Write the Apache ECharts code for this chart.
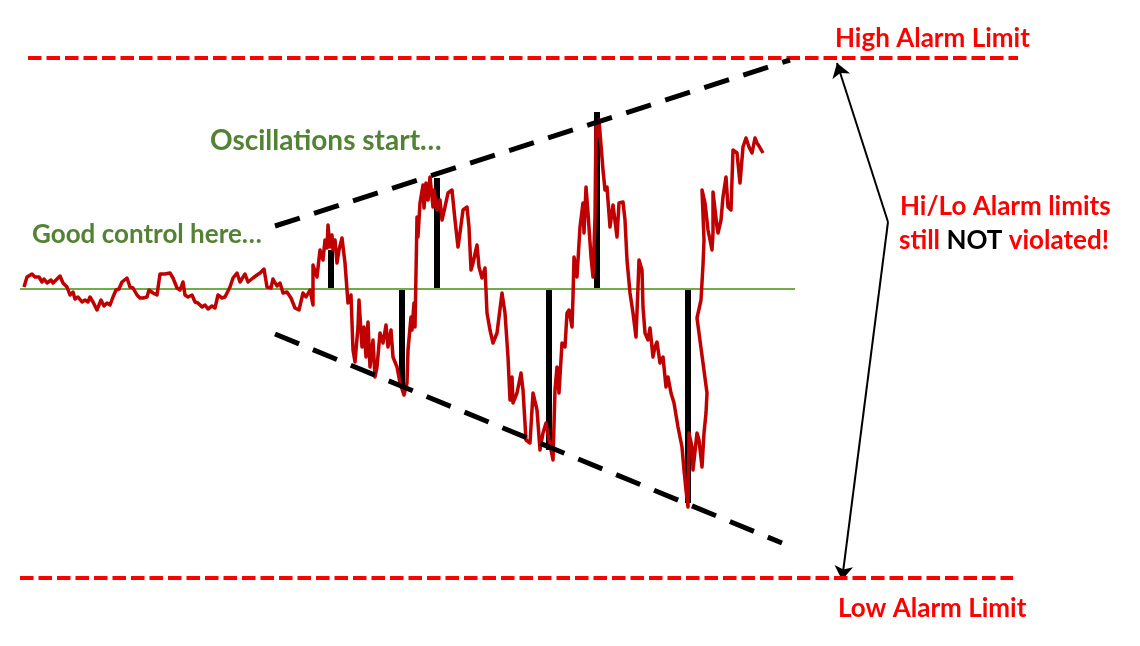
<!DOCTYPE html>
<html>
<head>
<meta charset="utf-8">
<script src="https://cdn.jsdelivr.net/npm/echarts@6/dist/echarts.min.js"></script>
<style>html,body{margin:0;padding:0;background:#fff}#c{width:1140px;height:646px}</style>
</head>
<body>
<div id="c"></div>
<script>
// Process value (deviation from setpoint) over time
const pvTime = [24,27,32,35,39,42,44,47,51,53,57,60,63,67,70,73,75,78,82,85,88,90,93,97,101,104,107,110,113,116,119,122,124,127,130,133,137,140,143,147,149,153,157,160,165,170,173,177,180,183,185,188,192,195,198,202,205,208,212,215,218,222,225,230,233,237,240,245,248,253,257,260,264,267,271,273,277,280,283,287,291,295,299,
303,306,310,313,313,317,320,323,325,327,328,330,332,333,335,337,339,342,345,348,351,353,355,358,359,362,364,366,368,370,373,375,377,380,383,386,388,391,393,397,400,404,407,408,411,412,414,415,416,417,418,420,423,424,426,428,430,433,434,437,440,442,445,448,452,455,
458,460,463,467,469,471,473,477,479,482,485,487,490,493,497,502,505,508,510,512,513,517,521,523,526,530,533,537,540,543,546,549,553,555,557,559,562,565,567,569,572,573,574,577,580,583,584,586,588,591,593,595,596,597,599,
603,605,607,610,613,617,619,623,625,627,630,633,636,638,639,642,643,645,648,650,653,655,657,660,663,666,668,671,674,678,682,684,686,688,689,692,693,697,699,702,704,706,707,697,701,703,704,702,705,708,712,713,715,713,717,718,721,723,726,728,731,733,737,740,743,746,749,752,755,757,759,763];
const pvValue = [2,12,15,12,12,7,10,6,9,6,10,13,6,2,-6,-3,-10,-8,-13,-11,-13,-8,-13,-21,-11,-17,-14,-16,-8,-1,0,7,6,11,2,1,-6,-9,-9,-8,-1,-4,-6,15,15,16,11,1,-1,7,-6,-8,-6,-13,-14,-18,-16,-20,-17,-19,-6,-9,-8,2,11,16,7,15,7,11,14,16,20,2,1,10,3,6,-4,-3,-9,-19,-21,
-4,-8,-1,-16,24,12,39,29,49,41,64,42,54,39,49,26,39,51,26,-14,-6,-61,-73,-38,-11,-58,-38,-68,-33,-78,-51,-88,-78,-44,-54,-36,-58,-41,-68,-78,-94,-106,-94,-61,-28,-41,-14,-38,16,72,52,86,104,81,106,89,112,82,99,79,89,69,82,96,99,69,
42,56,79,82,62,19,26,44,22,11,21,-24,-41,-54,-44,-4,-24,-68,-111,-88,-114,-104,-84,-101,-151,-154,-104,-121,-161,-144,-134,-151,-171,-101,-78,-104,-54,-58,-24,-21,-38,-8,32,12,62,86,56,102,76,32,12,72,164,152,169,
119,99,102,62,84,52,86,87,69,29,-4,-24,-48,2,29,19,-18,-44,-51,-39,-68,-58,-53,-74,-68,-98,-88,-104,-114,-138,-158,-181,-201,-218,-144,-158,-181,-144,-151,-178,-144,-124,-104,-29,-11,24,49,99,86,59,39,56,54,97,62,56,69,92,112,82,79,139,136,106,142,151,142,136,151,146,143,136];

// Peak / trough markers (time, value)
const peakTime  = [331, 402, 437, 549, 597, 688];
const peakValue = [39, -96, 111, -161, 177, -214];

// Limits and reference lines
const setpoint = 0;
const setpointSpan = [20, 795];
const highAlarm = 231;
const highSpan = [28, 1018];
const lowAlarm = -289;
const lowSpan = [20, 1013];
// Oscillation envelope (start, end)
const upperEnvelope = [[275, 63], [790, 229]];
const lowerEnvelope = [[275, -45], [782, -254]];
// Double arrow: vertex -> tips
const arrowVertex = [888, 67];
const arrowTips = [[837, 226], [842, -291]];

const pvData = pvTime.map((t, i) => [t, pvValue[i]]);
const peakData = peakTime.map((t, i) => [t, peakValue[i]]);

const chart = echarts.init(document.getElementById('c'));
const red = '#FF0000', green = '#548235';
const font = 'Lato, Calibri, "Open Sans", sans-serif';
chart.setOption({
  animation: false,
  grid: {left: 0, right: 0, top: 0, bottom: 0},
  xAxis: {type: 'value', min: 0, max: 1140, show: false},
  yAxis: {type: 'value', min: -357, max: 289, show: false},
  series: [
    {type: 'line', data: [[highSpan[0], highAlarm], [highSpan[1], highAlarm]], symbol: 'none',
     lineStyle: {color: red, width: 4, type: [13.5, 5], cap: 'butt'}},
    {type: 'line', data: [[lowSpan[0], lowAlarm], [lowSpan[1], lowAlarm]], symbol: 'none',
     lineStyle: {color: red, width: 4, type: [13.5, 5], cap: 'butt'}},
    {type: 'line', data: [[setpointSpan[0], setpoint], [setpointSpan[1], setpoint]], symbol: 'none',
     lineStyle: {color: '#70AD47', width: 2}},
    {type: 'bar', data: peakData, barWidth: 6, itemStyle: {color: '#000'}},
    {type: 'line', data: pvData, symbol: 'none', smooth: false,
     lineStyle: {color: '#C00000', width: 3.5, join: 'round'}},
    {type: 'line', data: upperEnvelope, symbol: 'none',
     lineStyle: {color: '#000', width: 5, type: [26, 15], cap: 'butt'}},
    {type: 'line', data: lowerEnvelope, symbol: 'none',
     lineStyle: {color: '#000', width: 5, type: [26, 15], cap: 'butt'}},
    {type: 'lines', coordinateSystem: 'cartesian2d', symbol: ['none', 'arrow'], symbolSize: [11, 14],
     lineStyle: {color: '#000', width: 2, opacity: 1},
     data: arrowTips.map(t => ({coords: [arrowVertex, t]}))}
  ],
  graphic: [
    {type: 'text', x: 835, y: 39, style: {text: 'High Alarm Limit', fill: red, font: 'bold 26px ' + font, textAlign: 'left', textVerticalAlign: 'middle'}},
    {type: 'text', x: 838, y: 609, style: {text: 'Low Alarm Limit', fill: red, font: 'bold 26px ' + font, textAlign: 'left', textVerticalAlign: 'middle'}},
    {type: 'text', x: 900, y: 207, style: {text: 'Hi/Lo Alarm limits', fill: red, font: 'bold 26px ' + font, textAlign: 'left', textVerticalAlign: 'middle'}},
    {type: 'text', x: 899, y: 241, style: {text: '{r|still }{b|NOT}{r| violated!}', textAlign: 'left', textVerticalAlign: 'middle',
      rich: {r: {fill: red, font: 'bold 26px ' + font}, b: {fill: '#000', font: 'bold 26px ' + font}}}},
    {type: 'text', x: 210, y: 141, style: {text: 'Oscillations start…', fill: green, font: 'bold 28px ' + font, textAlign: 'left', textVerticalAlign: 'middle'}},
    {type: 'text', x: 32, y: 235, style: {text: 'Good control here…', fill: green, font: 'bold 26px ' + font, textAlign: 'left', textVerticalAlign: 'middle'}}
  ]
});
</script>
</body>
</html>
